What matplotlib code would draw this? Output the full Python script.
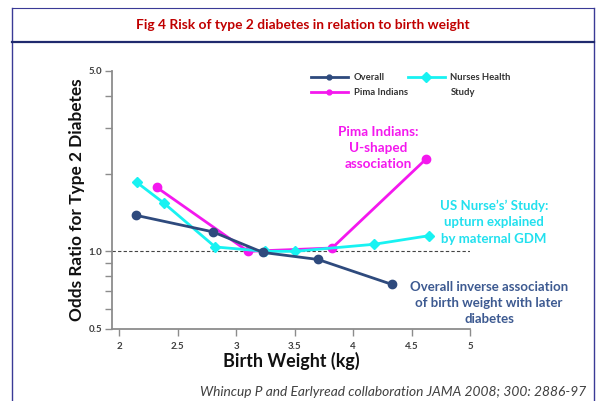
import matplotlib
matplotlib.use("Agg")
import matplotlib.pyplot as plt
from matplotlib.lines import Line2D
from matplotlib.ticker import FixedLocator, NullFormatter

plt.rcParams['font.family'] = ['Lato', 'DejaVu Sans']

# ---- data ----
overall_x = [2.14, 2.80, 3.23, 3.70, 4.33]
overall_y = [1.38, 1.19, 0.99, 0.93, 0.745]

pima_x = [2.32, 3.10, 3.82, 4.62]
pima_y = [1.77, 1.00, 1.03, 2.27]

nurses_x = [2.15, 2.38, 2.82, 3.25, 3.50, 4.18, 4.65]
nurses_y = [1.85, 1.54, 1.04, 1.00, 1.00, 1.065, 1.15]

x_ticks = [2, 2.5, 3, 3.5, 4, 4.5, 5]
x_ticklabels = ["2", "2.5", "3", "3.5", "4", "4.5", "5"]
y_major = [0.5, 1.0, 5.0]
y_major_labels = ["0.5", "1.0", "5.0"]
y_minor = [0.6, 0.7, 0.8, 0.9, 2, 3, 4]

NAVY = "#2E4A7D"
MAGENTA = "#F418EE"
CYAN = "#18F2F2"

W, H = 596, 401
fig = plt.figure(figsize=(W / 100, H / 100), dpi=100)


def px(x, y):
    return x / W, 1 - y / H


# frame
frame_col = "#3A3A96"
fig.add_artist(Line2D([12 / W, 12 / W], [0, 1 - 8 / H], transform=fig.transFigure, color=frame_col, lw=1.0))
fig.add_artist(Line2D([594 / W, 594 / W], [0, 1 - 8 / H], transform=fig.transFigure, color=frame_col, lw=1.0))
fig.add_artist(Line2D([12 / W, 594 / W], [1 - 8 / H, 1 - 8 / H], transform=fig.transFigure, color=frame_col, lw=0.8))
fig.add_artist(Line2D([12 / W, 594 / W], [1 - 42 / H, 1 - 42 / H], transform=fig.transFigure, color="#1F2A6E", lw=1.6))

fig.text(*px(303, 25), "Fig 4 Risk of type 2 diabetes in relation to birth weight",
         ha="center", va="center", color="#C00000", fontsize=9.9, fontweight="bold")

ax = fig.add_axes([112 / W, 1 - 329 / H, 358 / W, 258 / H])
ax.set_yscale("log")
ax.set_xlim(1.9375, 5.0)
ax.set_ylim(0.5, 5.0)

ax.axhline(1.0, color="#444444", lw=0.8, ls=(0, (3, 2)), zorder=1)

l_pima, = ax.plot(pima_x, pima_y, color=MAGENTA, lw=2.0, marker="o", ms=6, zorder=2)
l_nurse, = ax.plot(nurses_x, nurses_y, color=CYAN, lw=2.0, marker="D", ms=5.5, zorder=3)
l_over, = ax.plot(overall_x, overall_y, color=NAVY, lw=2.0, marker="o", ms=6, zorder=4)

for s in ["top", "right"]:
    ax.spines[s].set_visible(False)
for s in ["left", "bottom"]:
    ax.spines[s].set_color("#8C8C8C")
    ax.spines[s].set_linewidth(1.3)

ax.yaxis.set_major_locator(FixedLocator(y_major))
ax.set_yticklabels(y_major_labels)
ax.yaxis.set_minor_locator(FixedLocator(y_minor))
ax.yaxis.set_minor_formatter(NullFormatter())
ax.set_xticks(x_ticks)
ax.set_xticklabels(x_ticklabels)
ax.tick_params(axis="both", which="both", color="#8C8C8C", width=1.0, labelcolor="#3F3F3F",
               labelsize=7, direction="out")
ax.tick_params(axis="y", which="both", length=5, pad=2)
ax.tick_params(axis="x", which="major", length=5, pad=4.5)
for lab in ax.get_xticklabels() + ax.get_yticklabels():
    lab.set_fontweight("bold")

fig.text(*px(291, 361), "Birth Weight (kg)", ha="center", va="center",
         fontsize=12.9, fontweight="bold", color="#111111")
fig.text(*px(77, 200), "Odds Ratio for Type 2 Diabetes", ha="center", va="center",
         rotation=90, fontsize=12.4, fontweight="bold", color="#111111")

# legends
leg_kw = dict(frameon=False, borderpad=0, borderaxespad=0, handlelength=3.9,
              handletextpad=0.6, labelspacing=0.62, prop=dict(size=6.8, weight="bold"),
              labelcolor="#333333")
h1 = Line2D([], [], color=NAVY, lw=2.0, marker="o", ms=3.5)
h2 = Line2D([], [], color=MAGENTA, lw=2.0, marker="o", ms=3.5)
h3 = Line2D([], [], color=CYAN, lw=2.0, marker="D", ms=5)
h_blank = Line2D([], [], color="none", lw=0)
leg1 = fig.legend([h1, h2], ["Overall", "Pima Indians"], loc="upper left",
                  bbox_to_anchor=px(311, 73.5), **leg_kw)
leg2 = fig.legend([h3, h_blank], ["Nurses Health", "Study"], loc="upper left",
                  bbox_to_anchor=px(408, 73.5), **leg_kw)

# annotations
fig.text(*px(378, 148), "Pima Indians:\nU-shaped\nassociation", ha="center", va="center",
         color=MAGENTA, fontsize=9.7, fontweight="bold", linespacing=1.45)
fig.text(*px(494, 222), "US Nurse\u2019s\u2019 Study:\nupturn explained\nby maternal GDM", ha="center",
         va="center", color="#22E0EE", fontsize=9.5, fontweight="bold", linespacing=1.45)
fig.text(*px(489, 303), "Overall inverse association\nof birth weight with later\ndiabetes",
         ha="center", va="center", color="#3D5A91", fontsize=9.5, fontweight="bold", linespacing=1.4)

fig.text(*px(586, 392), "Whincup P and Earlyread collaboration JAMA 2008; 300: 2886-97",
         ha="right", va="center", color="#404040", fontsize=9.9, fontstyle="italic")

fig.savefig("out.png", dpi=100)
